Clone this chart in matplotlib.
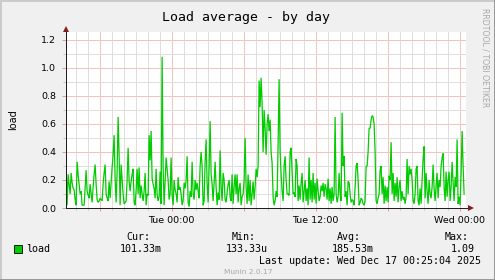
import matplotlib
matplotlib.use("Agg")
import matplotlib.pyplot as plt
import numpy as np
from matplotlib.lines import Line2D
from matplotlib.patches import Rectangle, Polygon
from matplotlib.ticker import MultipleLocator, FuncFormatter

# ---------------- data ----------------
# 5-minute load samples, starting Mon 15:12 (hours relative to Tue 00:00 = -8.8)
load = [
    0.30, 0.02, 0.24, 0.17, 0.10, 0.25, 0.18, 0.14, 0.13, 0.06,
    0.02, 0.33, 0.24, 0.17, 0.10, 0.12, 0.02, 0.02, 0.02, 0.15,
    0.27, 0.12, 0.09, 0.07, 0.17, 0.10, 0.04, 0.15, 0.24, 0.31,
    0.17, 0.06, 0.04, 0.05, 0.07, 0.06, 0.05, 0.17, 0.25, 0.31,
    0.10, 0.07, 0.05, 0.19, 0.07, 0.18, 0.29, 0.38, 0.52, 0.21,
    0.04, 0.26, 0.65, 0.38, 0.02, 0.31, 0.21, 0.10, 0.03, 0.04,
    0.05, 0.20, 0.43, 0.19, 0.12, 0.19, 0.24, 0.28, 0.04, 0.02,
    0.13, 0.28, 0.10, 0.29, 0.07, 0.16, 0.10, 0.05, 0.12, 0.25,
    0.02, 0.10, 0.09, 0.52, 0.34, 0.55, 0.21, 0.17, 0.14, 0.07,
    0.28, 0.10, 0.05, 0.08, 0.26, 0.03, 1.08, 0.30, 0.02, 0.20,
    0.36, 0.28, 0.20, 0.06, 0.10, 0.36, 0.09, 0.02, 0.20, 0.13,
    0.10, 0.04, 0.22, 0.13, 0.15, 0.10, 0.02, 0.05, 0.18, 0.14,
    0.20, 0.37, 0.04, 0.01, 0.12, 0.08, 0.33, 0.10, 0.06, 0.20,
    0.13, 0.18, 0.12, 0.07, 0.30, 0.40, 0.30, 0.02, 0.05, 0.33,
    0.49, 0.18, 0.04, 0.30, 0.62, 0.24, 0.17, 0.05, 0.18, 0.33,
    0.15, 0.02, 0.11, 0.06, 0.41, 0.15, 0.05, 0.25, 0.20, 0.06,
    0.04, 0.11, 0.17, 0.20, 0.08, 0.05, 0.24, 0.03, 0.15, 0.24,
    0.10, 0.24, 0.04, 0.14, 0.18, 0.02, 0.08, 0.10, 0.20, 0.50,
    0.15, 0.03, 0.24, 0.05, 0.20, 0.02, 0.10, 0.19, 0.06, 0.15,
    0.28, 0.22, 0.30, 0.91, 0.72, 0.93, 0.75, 0.40, 0.70, 0.57,
    0.38, 0.60, 0.67, 0.55, 0.63, 0.40, 0.32, 0.08, 0.02, 0.05,
    0.12, 0.08, 0.46, 0.92, 0.40, 0.24, 0.12, 0.05, 0.30, 0.37,
    0.20, 0.10, 0.10, 0.09, 0.40, 0.43, 0.25, 0.10, 0.11, 0.08,
    0.35, 0.30, 0.05, 0.16, 0.06, 0.18, 0.25, 0.04, 0.12, 0.20,
    0.05, 0.14, 0.02, 0.36, 0.06, 0.20, 0.04, 0.25, 0.06, 0.18,
    0.03, 0.21, 0.12, 0.05, 0.08, 0.16, 0.12, 0.18, 0.08, 0.17,
    0.14, 0.06, 0.21, 0.05, 0.14, 0.03, 0.15, 0.05, 0.10, 0.65,
    0.10, 0.04, 0.08, 0.25, 0.10, 0.05, 0.68, 0.30, 0.37, 0.08,
    0.12, 0.02, 0.19, 0.18, 0.10, 0.04, 0.06, 0.05, 0.02, 0.15,
    0.30, 0.32, 0.20, 0.02, 0.04, 0.07, 0.06, 0.03, 0.02, 0.05,
    0.30, 0.30, 0.40, 0.57, 0.57, 0.63, 0.66, 0.65, 0.60, 0.40,
    0.05, 0.03, 0.07, 0.10, 0.27, 0.30, 0.10, 0.22, 0.03, 0.16,
    0.05, 0.15, 0.04, 0.23, 0.20, 0.47, 0.10, 0.25, 0.05, 0.18,
    0.08, 0.22, 0.04, 0.15, 0.20, 0.05, 0.12, 0.06, 0.08, 0.03,
    0.08, 0.35, 0.10, 0.30, 0.24, 0.28, 0.20, 0.05, 0.03, 0.10,
    0.28, 0.30, 0.05, 0.02, 0.14, 0.03, 0.20, 0.35, 0.44, 0.07,
    0.25, 0.12, 0.03, 0.20, 0.10, 0.07, 0.15, 0.31, 0.14, 0.05,
    0.16, 0.25, 0.07, 0.20, 0.15, 0.30, 0.36, 0.39, 0.15, 0.05,
    0.26, 0.08, 0.20, 0.26, 0.05, 0.15, 0.33, 0.18, 0.05, 0.22,
    0.15, 0.49, 0.03, 0.08, 0.02, 0.25, 0.55, 0.30, 0.10,
]
first_sample_hour = -8.8      # Mon 15:12 relative to Tue 00:00
sample_minutes = 5
x_range = (-8.81, 24.525)     # hours relative to Tue 00:00 (33.3 h window)
y_range = (0.0, 1.257)

xtick_hours = [0, 12, 24]
xtick_labels = ["Tue 00:00", "Tue 12:00", "Wed 00:00"]

title = "Load average - by day"
y_label = "load"
series_name = "load"
stat_names = ["Cur:", "Min:", "Avg:", "Max:"]
stat_values = ["101.33m", "133.33u", "185.53m", "1.09"]
last_update = "Last update: Wed Dec 17 00:25:04 2025"
footer = "Munin 2.0.17"
side_text = "RRDTOOL / TOBI OETIKER"

# ---------------- styling ----------------
W, H = 495, 280
BACK = "#F0F0F0"
GREEN = "#00CC00"
MINOR = "#DEDEDE"
MAJOR = "#F5C2C2"
AXIS = "#1F1F1F"
ARROW = "#801F1F"
MONO = "DejaVu Sans Mono"
SANS = "DejaVu Sans"
PX = 0.72  # one pixel in points


def fx(px):
    return px / W


def fy(py):
    return 1 - py / H


fig = plt.figure(figsize=(W / 100, H / 100), dpi=100, facecolor=BACK)

# borders (shade A top/left, shade B bottom/right)
fig.add_artist(Line2D([0, 0, 1], [0, 1, 1], transform=fig.transFigure,
                      color="#CBCBCB", lw=2 * PX * 1.5))
fig.add_artist(Line2D([0, 1, 1], [0, 0, 1], transform=fig.transFigure,
                      color="#999999", lw=2 * PX * 1.5))

ax = fig.add_axes([fx(66), fy(208), 400 / W, 176 / H])
ax.set_facecolor("white")
ax.set_xlim(*x_range)
ax.set_ylim(*y_range)

t = first_sample_hour + np.arange(len(load)) * sample_minutes / 60.0
ax.plot(t, load, color=GREEN, lw=0.9, solid_joinstyle="miter", zorder=3)

ax.xaxis.set_major_locator(MultipleLocator(6))
ax.xaxis.set_minor_locator(MultipleLocator(1))
ax.yaxis.set_major_locator(MultipleLocator(0.2))
ax.yaxis.set_minor_locator(MultipleLocator(0.1))

label_map = dict(zip(xtick_hours, xtick_labels))
ax.xaxis.set_major_formatter(FuncFormatter(
    lambda v, p: label_map.get(int(round(v)), "") if abs(v - round(v)) < 1e-6 else ""))
ax.yaxis.set_major_formatter(FuncFormatter(lambda v, p: f"{v:.1f}"))

ax.grid(which="minor", color=MINOR, lw=PX, zorder=0)
ax.grid(which="major", color=MAJOR, lw=PX, zorder=1)
ax.set_axisbelow(True)

for s in ax.spines.values():
    s.set_visible(False)

ax.tick_params(axis="x", which="major", length=2.5, width=PX, color="#E89A9A",
               labelsize=6.8, pad=3.0, labelfontfamily=SANS)
ax.tick_params(axis="x", which="minor", length=1.5, width=PX, color="#C8C8C8")
ax.tick_params(axis="y", which="major", length=3, width=PX, color="#E89A9A",
               labelsize=6.8, pad=4.0, labelfontfamily=SANS)
ax.tick_params(axis="y", which="minor", length=2, width=PX, color="#C8C8C8")

# axes lines extending beyond canvas, with arrows
fig.add_artist(Line2D([fx(66), fx(469)], [fy(208), fy(208)],
                      transform=fig.transFigure, color=AXIS, lw=PX, zorder=5))
fig.add_artist(Line2D([fx(66), fx(66)], [fy(208), fy(30)],
                      transform=fig.transFigure, color=AXIS, lw=PX, zorder=5))
fig.add_artist(Polygon([[fx(63), fy(32)], [fx(69), fy(32)], [fx(66), fy(26)]],
                       closed=True, transform=fig.transFigure, color=ARROW, lw=0, zorder=6))
fig.add_artist(Polygon([[fx(468), fy(205)], [fx(468), fy(211)], [fx(474), fy(208)]],
                       closed=True, transform=fig.transFigure, color=ARROW, lw=0, zorder=6))

# texts
fig.text(fx(246.5), fy(17), title, ha="center", va="center", family=MONO, size=9.5)
fig.text(fx(13.5), fy(120), y_label, ha="center", va="center", rotation=90,
         family=SANS, size=7)
fig.text(fx(484.5), fy(58), side_text, ha="center", va="center", rotation=270,
         family=SANS, size=5.6, color="#A8A8A8")

fig.add_artist(Rectangle((fx(14), fy(253)), 8 / W, 8 / H, transform=fig.transFigure,
                         facecolor=GREEN, edgecolor="black", lw=0.6))
fig.text(fx(26), fy(248.5), series_name, ha="left", va="center", family=MONO, size=7.2)

name_x = [126.7, 231.3, 337.3, 444.3]
value_right = [161.7, 267.3, 373.3, 474.3]
for nx, vr, n, v in zip(name_x, value_right, stat_names, stat_values):
    fig.text(fx(nx), fy(236.5), n, ha="left", va="center", family=MONO, size=7.2)
    fig.text(fx(vr), fy(248.5), v, ha="right", va="center", family=MONO, size=7.2)

fig.text(fx(481), fy(260.5), last_update, ha="right", va="center", family=MONO, size=7.2)
fig.text(fx(248), fy(271.5), footer, ha="center", va="center", family=SANS, size=5.3,
         color="#A8A8A8")

fig.savefig("out.png", dpi=100, facecolor=BACK)
